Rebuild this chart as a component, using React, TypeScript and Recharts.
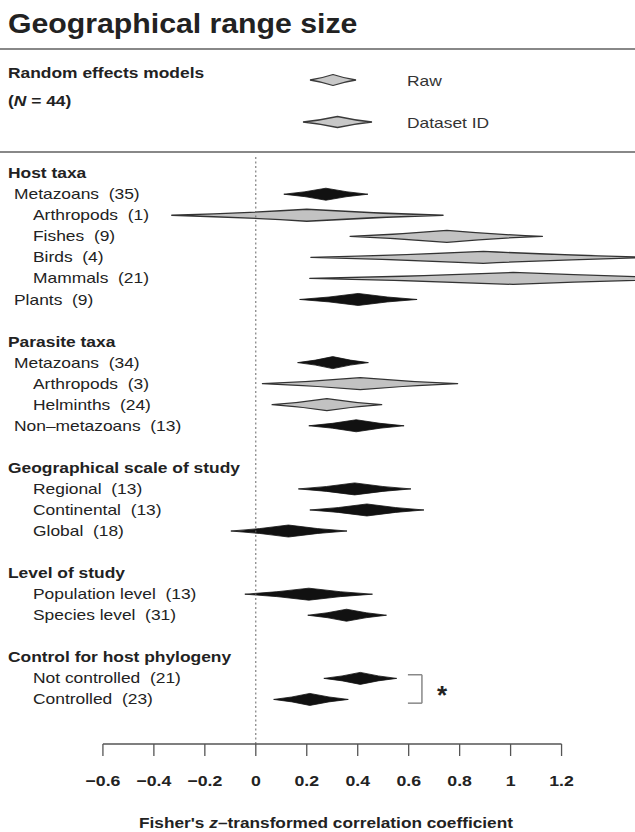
import React from "react";
import { ComposedChart, Bar, XAxis, YAxis, ReferenceLine } from "recharts";

const rowLabels = [
  "Host taxa",
  "Metazoans\u00a0\u00a0(35)",
  "Arthropods\u00a0\u00a0(1)",
  "Fishes\u00a0\u00a0(9)",
  "Birds\u00a0\u00a0(4)",
  "Mammals\u00a0\u00a0(21)",
  "Plants\u00a0\u00a0(9)",
  "",
  "Parasite taxa",
  "Metazoans\u00a0\u00a0(34)",
  "Arthropods\u00a0\u00a0(3)",
  "Helminths\u00a0\u00a0(24)",
  "Non\u2013metazoans\u00a0\u00a0(13)",
  "",
  "Geographical scale of study",
  "Regional\u00a0\u00a0(13)",
  "Continental\u00a0\u00a0(13)",
  "Global\u00a0\u00a0(18)",
  "",
  "Level of study",
  "Population level\u00a0\u00a0(13)",
  "Species level\u00a0\u00a0(31)",
  "",
  "Control for host phylogeny",
  "Not controlled\u00a0\u00a0(21)",
  "Controlled\u00a0\u00a0(23)",
];

// 0 = group header, 1 = first level, 2 = nested level
const rowIndent = [0, 1, 2, 2, 2, 2, 1, 0, 0, 1, 2, 2, 1, 0, 0, 2, 2, 2, 0, 0, 2, 2, 0, 0, 2, 2];

const lowerCI = [null, 0.11, -0.33, 0.37, 0.216, 0.212, 0.172, null, null, 0.164, 0.026, 0.064, 0.208, null, null, 0.167, 0.212, -0.098, null, null, -0.043, 0.204, null, null, 0.267, 0.07];
const meanZ = [null, 0.275, 0.2, 0.75, 0.893, 1.01, 0.402, null, null, 0.302, 0.41, 0.279, 0.394, null, null, 0.388, 0.436, 0.128, null, null, 0.208, 0.356, null, null, 0.41, 0.212];
const upperCI = [null, 0.44, 0.735, 1.125, 1.57, 1.81, 0.633, null, null, 0.442, 0.792, 0.494, 0.582, null, null, 0.609, 0.66, 0.358, null, null, 0.458, 0.513, null, null, 0.553, 0.363];
const modelType = ["", "raw", "dataset", "dataset", "dataset", "dataset", "raw", "", "", "raw", "dataset", "dataset", "raw", "", "", "raw", "raw", "raw", "", "", "raw", "raw", "", "", "raw", "raw"];

const xTicks = [-0.6, -0.4, -0.2, 0, 0.2, 0.4, 0.6, 0.8, 1, 1.2];

const rows = rowLabels.map((label, i) => ({
  line: i,
  label,
  range: lowerCI[i] == null ? null : [lowerCI[i], upperCI[i]],
  mean: meanZ[i],
  kind: modelType[i],
}));

const FONT = '"Liberation Sans", Arial, Helvetica, sans-serif';
const indentX = [8, 14, 33];
const SX = 1.16; // the source figure's lettering is a bit wide

// text with a horizontal stretch, anchored at (x, y)
function SText({ x, y, sx = SX, size = 15, bold = false, anchor = "start", fill = "#222", children }: any) {
  return (
    <text
      transform={`translate(${x},${y}) scale(${sx},1)`}
      textAnchor={anchor}
      dominantBaseline="central"
      fontFamily={FONT}
      fontSize={size}
      fontWeight={bold ? "bold" : "normal"}
      fill={fill}
    >
      {children}
    </text>
  );
}

// slightly pinched diamond between x1 and x2, widest at mx
function diamondPath(x1: number, x2: number, mx: number, cy: number, h: number) {
  const k = 0.62;
  const q = (ax: number, bx: number, dy: number) => `Q${(ax + bx) / 2},${cy + dy * k}`;
  return (
    `M${x1},${cy} ${q(x1, mx, -h / 2)} ${mx},${cy - h} ` +
    `${q(mx, x2, -h / 2)} ${x2},${cy} ` +
    `${q(x2, mx, h / 2)} ${mx},${cy + h} ` +
    `${q(mx, x1, h / 2)} ${x1},${cy} Z`
  );
}

function Diamond(props: any) {
  const { x, y, width, height, payload } = props;
  if (!payload || payload.range == null || !width) return null;
  const [lo, hi] = payload.range;
  const cy = y + height / 2;
  const mx = x + (width * (payload.mean - lo)) / (hi - lo);
  const d = diamondPath(x, x + width, mx, cy, 6);
  if (payload.kind === "dataset") {
    return <path d={d} fill="#c2c2c2" stroke="#333" strokeWidth={1.3} strokeLinejoin="round" />;
  }
  return <path d={d} fill="#111" stroke="#111" strokeWidth={0.8} />;
}

function RowTick(props: any) {
  const { y, payload } = props;
  const i = payload.value;
  const label = rowLabels[i];
  if (!label) return null;
  const lvl = rowIndent[i];
  return (
    <SText x={indentX[lvl]} y={y} bold={lvl === 0}>
      {label}
    </SText>
  );
}

function fmt(v: number) {
  if (v === 0) return "0";
  return v < 0 ? "\u2212" + Math.abs(v) : String(v);
}

function XTick(props: any) {
  const { x, payload } = props;
  return (
    <SText x={x} y={781} sx={1.18} bold anchor="middle">
      {fmt(payload.value)}
    </SText>
  );
}

function LegendDiamond({ x1, x2, cy }: { x1: number; x2: number; cy: number }) {
  return (
    <path
      d={diamondPath(x1, x2, (x1 + x2) / 2, cy, 5.5)}
      fill="#c8c8c8"
      stroke="#3a3a3a"
      strokeWidth={1.3}
    />
  );
}

export default function App() {
  return (
    <div
      style={{
        position: "absolute",
        left: 0,
        top: 0,
        width: 635,
        height: 832,
        overflow: "hidden",
        background: "#fff",
      }}
    >
      <ComposedChart
        layout="vertical"
        width={640}
        height={832}
        data={rows}
        margin={{ top: 155, right: 2, bottom: 58, left: 0 }}
        style={{ position: "absolute", left: 0, top: 0 }}
      >
        <XAxis
          type="number"
          domain={[-1, 1.5]}
          allowDataOverflow
          ticks={xTicks}
          height={30}
          axisLine={false}
          tickLine={{ stroke: "#555", strokeWidth: 1.3 }}
          tickSize={12}
          tick={<XTick />}
        />
        <YAxis
          type="number"
          dataKey="line"
          domain={[-0.84, 27.14]}
          allowDataOverflow
          ticks={rows.map((r) => r.line)}
          interval={0}
          width={1}
          axisLine={false}
          tickLine={false}
          tick={<RowTick />}
        />
        <ReferenceLine x={0} stroke="#666" strokeDasharray="2 2.5" strokeWidth={1} />
        <ReferenceLine
          segment={[{ x: -0.6, y: 27.14 }, { x: 1.2, y: 27.14 }]}
          stroke="#555"
          strokeWidth={1.3}
          ifOverflow="visible"
        />
        <ReferenceLine segment={[{ x: 0.597, y: 23.85 }, { x: 0.652, y: 23.85 }]} stroke="#888" strokeWidth={1.5} ifOverflow="visible" />
        <ReferenceLine segment={[{ x: 0.652, y: 23.85 }, { x: 0.652, y: 25.2 }]} stroke="#888" strokeWidth={1.5} ifOverflow="visible" />
        <ReferenceLine segment={[{ x: 0.597, y: 25.2 }, { x: 0.652, y: 25.2 }]} stroke="#888" strokeWidth={1.5} ifOverflow="visible" />
        <Bar dataKey="range" barSize={12} shape={<Diamond />} isAnimationActive={false} />
      </ComposedChart>

      <svg width={635} height={832} style={{ position: "absolute", left: 0, top: 0, pointerEvents: "none" }}>
        <text transform="translate(8,33) scale(1.08,1)" fontFamily={FONT} fontSize={28} fontWeight="bold" fill="#222">
          Geographical range size
        </text>
        <line x1={0} x2={635} y1={49} y2={49} stroke="#888" strokeWidth={2} />
        <SText x={8} y={72} bold>
          Random effects models
        </SText>
        <SText x={8} y={100} bold>
          (<tspan fontStyle="italic">N</tspan> = 44)
        </SText>
        <LegendDiamond x1={310} x2={356} cy={80} />
        <SText x={407} y={80} fill="#333">
          Raw
        </SText>
        <LegendDiamond x1={303} x2={372} cy={122} />
        <SText x={407} y={122} fill="#333">
          Dataset ID
        </SText>
        <line x1={0} x2={635} y1={152} y2={152} stroke="#888" strokeWidth={2} />
        <text x={442} y={704} textAnchor="middle" fontFamily={FONT} fontSize={26} fontWeight="bold" fill="#222">
          *
        </text>
        <SText x={326} y={822} sx={1.15} bold anchor="middle">
          Fisher's <tspan fontStyle="italic">z</tspan>{"\u2013transformed correlation coefficient"}
        </SText>
      </svg>
    </div>
  );
}
